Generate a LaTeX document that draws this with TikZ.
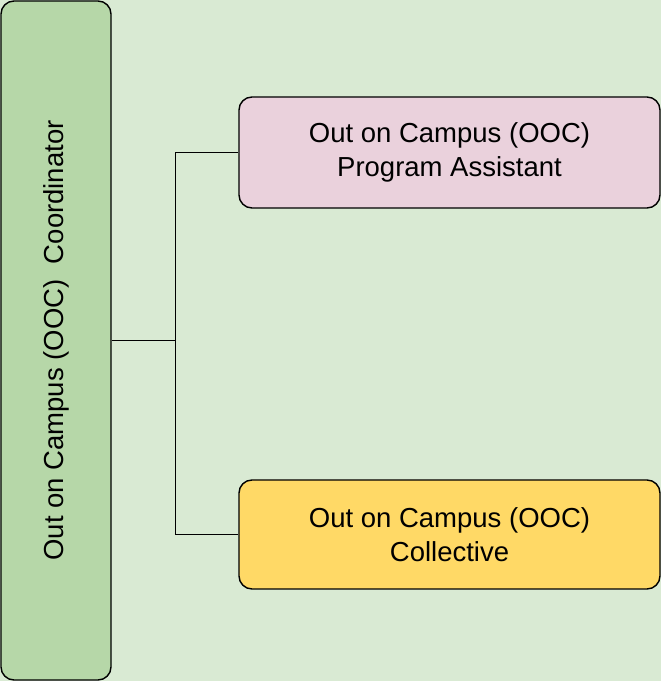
\documentclass[tikz,border=0pt]{standalone}
\usepackage{fontspec}
\setmainfont{Liberation Sans}
\usetikzlibrary{positioning}

\definecolor{bggreen}{HTML}{D9EAD3}
\definecolor{boxgreen}{HTML}{B6D7A8}
\definecolor{boxpink}{HTML}{EAD1DC}
\definecolor{boxyellow}{HTML}{FFD966}

\begin{document}
\begin{tikzpicture}[x=1pt,y=1pt]
 \coordinate (origo) at (0,0);

\tikzstyle{role}=[draw,line width=1.4pt,rounded corners=13pt,inner sep=0pt,align=center,font=\fontsize{27.5}{34}\selectfont]
\tikzstyle{link}=[line width=1.1pt]

   % background
   \fill[bggreen] (origo) rectangle (661,681);
   \useasboundingbox (origo) rectangle (661,681);

   \node (coord) [role,fill=boxgreen,minimum width=679pt,minimum height=110pt,rotate=90] at (56,340.5) {Out on Campus (OOC) \ Coordinator};

   \node (assist) [role,fill=boxpink,minimum width=421pt,minimum height=111pt] at (449.5,528.5) {Out on Campus (OOC)\\Program Assistant};
   \node (coll) [role,fill=boxyellow,minimum width=421pt,minimum height=109pt] at (449.5,146.5) {Out on Campus (OOC)\\Collective};

   \draw[link] (coord.south) -- ++(64pt,0) coordinate (split);
   \draw[link] (split) |- (assist.west);
   \draw[link] (split) |- (coll.west);

\end{tikzpicture}
\end{document}
